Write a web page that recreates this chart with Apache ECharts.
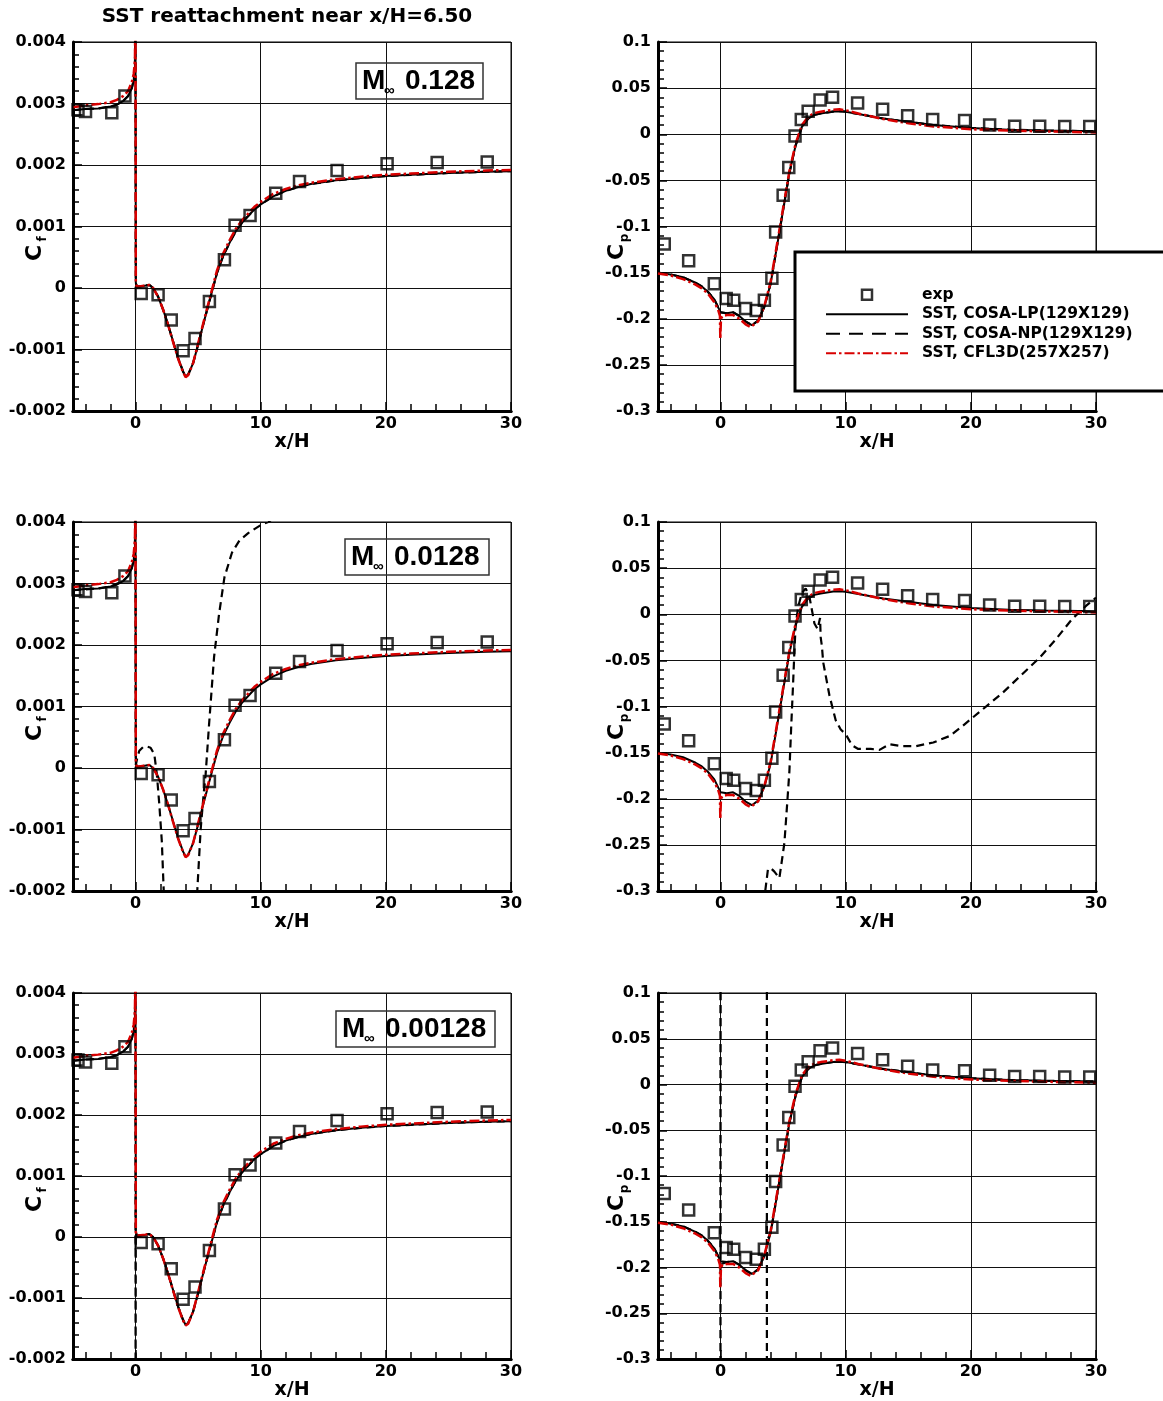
<!DOCTYPE html>
<html>
<head>
<meta charset="utf-8">
<script src="https://cdn.jsdelivr.net/npm/echarts@6/dist/echarts.min.js"></script>
<style>
html, body { margin: 0; padding: 0; background: #fff; }
#chart { width: 1163px; height: 1401px; }
</style>
</head>
<body>
<div id="chart"></div>
<script>
// ---- data ----
// skin friction, experiment (same in all three rows)
const cfExp = [[-4.6,0.00290],[-4.0,0.00287],[-1.9,0.00285],[-0.85,0.00312],[0.45,-0.00009],[1.8,-0.00011],
  [2.85,-0.00052],[3.8,-0.00102],[4.75,-0.00082],[5.9,-0.00022],[7.1,0.00046],[7.95,0.00102],[9.15,0.00118],
  [11.2,0.00154],[13.1,0.00173],[16.1,0.00191],[20.1,0.00202],[24.1,0.00204],[28.1,0.00205]]
// skin friction, SST COSA-LP
const cfLp = [[-5,0.00289],[-4,0.00291],[-3,0.00292],[-2,0.00295],[-1.5,0.00298],[-1,0.00304],[-0.6,0.00312],
  [-0.3,0.00325],[-0.15,0.00338],[-0.05,0.0036],[-0.01,0.0046],[0.02,0.00008],[0.1,0.00002],[0.4,0.00003],
  [0.8,0.00004],[1.1,0.00005],[1.4,0.0],[1.8,-0.00014],[2.2,-0.00035],[2.6,-0.0006],[3.0,-0.00087],
  [3.4,-0.00114],[3.8,-0.00136],[4.0,-0.00144],[4.2,-0.00141],[4.6,-0.00122],[5.0,-0.00092],[5.5,-0.00052],
  [6.0,-0.00014],[6.5,0.00024],[7.0,0.00052],[7.5,0.00073],[8.0,0.00092],[8.5,0.00106],[9.0,0.00117],
  [9.5,0.00128],[10,0.00136],[11,0.00149],[12,0.00158],[13,0.00164],[14,0.00169],[16,0.00175],[18,0.00179],
  [20,0.00182],[22,0.00184],[25,0.00187],[28,0.00189],[30,0.0019]]
// skin friction, SST CFL3D
const cfCfl3d = [[-5,0.00294],[-4,0.00297],[-3,0.00299],[-2,0.00302],[-1.5,0.00306],[-1,0.00312],[-0.6,0.0032],
  [-0.3,0.00335],[-0.15,0.00348],[-0.05,0.0037],[-0.01,0.0046],[0.02,0.00008],[0.1,0.00002],[0.4,0.00003],
  [0.8,0.00004],[1.1,0.00005],[1.4,0.0],[1.8,-0.00014],[2.2,-0.00035],[2.6,-0.0006],[3.0,-0.00088],
  [3.4,-0.00115],[3.8,-0.00137],[4.0,-0.00145],[4.2,-0.00142],[4.6,-0.00122],[5.0,-0.0009],[5.5,-0.0005],
  [6.0,-0.00011],[6.5,0.00028],[7.0,0.00056],[7.5,0.00077],[8.0,0.00096],[8.5,0.0011],[9.0,0.00121],
  [9.5,0.00132],[10,0.0014],[11,0.00153],[12,0.00161],[13,0.00167],[14,0.00171],[16,0.00177],[18,0.00181],
  [20,0.00184],[22,0.00186],[25,0.00189],[28,0.00191],[30,0.00192]]
// skin friction, SST COSA-NP, one per Mach number
const cfNp1 = cfLp
const cfNp2 = [[-5,0.00289],[-3,0.00292],[-2,0.00295],[-1,0.00304],[-0.6,0.00312],[-0.3,0.00325],[-0.15,0.00338],
  [-0.05,0.0036],[-0.01,0.0046],[0.02,0.00005],[0.15,0.00018],[0.3,0.00028],[0.6,0.00034],[0.9,0.00035],
  [1.2,0.00033],[1.5,0.00022],[1.7,-0.0001],[1.9,-0.0006],[2.1,-0.0012],[2.25,-0.002],[2.5,-0.0035],
  [3.5,-0.006],[4.6,-0.004],[4.93,-0.002],[5.2,-0.001],[5.45,-0.0004],[5.6,-0.0001],[5.87,0.0007],
  [6.27,0.0018],[6.67,0.0025],[7.1,0.0031],[7.7,0.0035],[8.3,0.0037],[9.0,0.00382],[10.0,0.00395],
  [10.6,0.0040],[12,0.0042]]
const cfNp3 = [[-5,0.00289],[-4,0.00291],[-3,0.00292],[-2,0.00295],[-1.5,0.00298],[-1,0.00304],[-0.6,0.00312],
  [-0.3,0.00325],[-0.15,0.00338],[-0.05,0.0036],[-0.01,0.0046],[0.0,-0.0025],[0.02,0.00008],[0.1,0.00002],
  [0.4,0.00003],[0.8,0.00004],[1.1,0.00005],[1.4,0.0],[1.8,-0.00014],[2.2,-0.00035],[2.6,-0.0006],
  [3.0,-0.00087],[3.4,-0.00114],[3.8,-0.00136],[4.0,-0.00144],[4.2,-0.00141],[4.6,-0.00122],[5.0,-0.00092],
  [5.5,-0.00052],[6.0,-0.00014],[6.5,0.00024],[7.0,0.00052],[7.5,0.00073],[8.0,0.00092],[8.5,0.00106],
  [9.0,0.00117],[9.5,0.00128],[10,0.00136],[11,0.00149],[12,0.00158],[13,0.00164],[14,0.00169],[16,0.00175],
  [18,0.00179],[20,0.00182],[22,0.00184],[25,0.00187],[28,0.00189],[30,0.0019]]

// pressure, experiment
const cpExp = [[-4.5,-0.119],[-2.55,-0.137],[-0.5,-0.162],[0.45,-0.178],[1.05,-0.180],[2.0,-0.189],[2.85,-0.191],
  [3.5,-0.180],[4.1,-0.156],[4.4,-0.106],[5.0,-0.066],[5.45,-0.036],[5.95,-0.002],[6.45,0.016],[7.0,0.025],
  [7.95,0.037],[8.95,0.040],[10.95,0.034],[12.95,0.027],[14.95,0.020],[16.95,0.016],[19.5,0.015],[21.5,0.010],
  [23.5,0.0087],[25.5,0.0087],[27.5,0.0083],[29.5,0.0083]]
// pressure, SST COSA-LP
const cpLp = [[-5,-0.150],[-4,-0.152],[-3,-0.155],[-2,-0.161],[-1.5,-0.165],[-1,-0.171],[-0.5,-0.179],
  [-0.25,-0.186],[0,-0.193],[0.1,-0.195],[0.5,-0.194],[1,-0.193],[1.5,-0.197],[2,-0.203],[2.5,-0.207],
  [3,-0.202],[3.5,-0.187],[4,-0.162],[4.5,-0.122],[5,-0.082],[5.5,-0.042],[6,-0.012],[6.5,0.008],[7,0.017],
  [7.5,0.021],[8,0.0225],[9,0.0246],[9.5,0.025],[10,0.0245],[11,0.022],[12,0.0195],[13,0.017],[15,0.0135],
  [17,0.010],[20,0.0069],[23,0.005],[26,0.004],[30,0.0033]]
// pressure, SST CFL3D
const cpCfl3d = [[-5,-0.151],[-4,-0.153],[-3,-0.157],[-2,-0.163],[-1.5,-0.167],[-1,-0.173],[-0.5,-0.182],
  [-0.2,-0.19],[-0.05,-0.197],[-0.02,-0.222],[0.03,-0.2],[0.15,-0.197],[0.5,-0.196],[1,-0.196],[1.5,-0.2],
  [2,-0.206],[2.4,-0.209],[3,-0.203],[3.5,-0.186],[4,-0.16],[4.5,-0.12],[5,-0.08],[5.5,-0.04],[6,-0.01],
  [6.5,0.01],[7,0.019],[7.5,0.023],[8,0.0245],[9,0.0265],[9.5,0.027],[10,0.026],[11,0.0225],[12,0.0195],
  [13,0.0165],[15,0.012],[17,0.0085],[20,0.0055],[23,0.004],[26,0.003],[30,0.002]]
// pressure, SST COSA-NP, one per Mach number
const cpNp1 = cpLp
const cpNp2 = [[-5,-0.293],[-4.6,-0.32],[0,-0.6],[3.4,-0.4],[3.57,-0.3],[3.78,-0.277],[4.0,-0.275],[4.3,-0.279],
  [4.7,-0.286],[5.1,-0.248],[5.35,-0.2],[5.5,-0.17],[5.65,-0.12],[5.78,-0.08],[5.9,-0.04],[6.0,-0.012],
  [6.2,0.008],[6.5,0.023],[6.8,0.028],[7.1,0.019],[7.5,-0.01],[7.75,-0.016],[7.95,-0.004],[8.0,-0.025],
  [8.1,-0.035],[8.2,-0.052],[8.7,-0.088],[9.2,-0.115],[9.6,-0.125],[10.0,-0.13],[10.5,-0.142],[11,-0.146],
  [12,-0.146],[12.7,-0.147],[13.5,-0.141],[14.5,-0.143],[15.6,-0.143],[17,-0.139],[18.3,-0.132],
  [19.35,-0.121],[20.95,-0.103],[22.55,-0.085],[24.1,-0.065],[25.5,-0.047],[26.8,-0.027],[28.1,-0.005],
  [29.2,0.009],[30,0.018]]
const cpNp3 = [[-5,-0.150],[-4,-0.152],[-3,-0.155],[-2,-0.161],[-1.5,-0.165],[-1,-0.171],[-0.5,-0.179],
  [-0.25,-0.186],[-0.06,-0.191],[-0.03,null],[-0.01,0.3],[-0.01,-0.5],[0.01,0.3],[0.03,null],[0.06,-0.196],
  [0.1,-0.195],[0.5,-0.194],[1,-0.193],[1.5,-0.197],[2,-0.203],[2.5,-0.207],[3,-0.202],[3.5,-0.187],
  [3.6,-0.182],[3.65,null],[3.7,0.3],[3.7,-0.5],[3.75,null],[3.8,-0.168],[4,-0.162],[4.5,-0.122],[5,-0.082],
  [5.5,-0.042],[6,-0.012],[6.5,0.008],[7,0.017],[7.5,0.021],[8,0.0225],[9,0.0246],[9.5,0.025],[10,0.0245],
  [11,0.022],[12,0.0195],[13,0.017],[15,0.0135],[17,0.010],[20,0.0069],[23,0.005],[26,0.004],[30,0.0033]]

const machLabels = ['0.128', '0.0128', '0.00128']
const xMajorTicks = [0, 10, 20, 30]
const xMinorTicks = [-4, -2, 2, 4, 6, 8, 12, 14, 16, 18, 22, 24, 26, 28]
const seriesNames = ['exp', 'SST, COSA-LP(129X129)', 'SST, COSA-NP(129X129)', 'SST, CFL3D(257X257)']

// ---- layout ----
const colLeft = [73, 658]
const rowTop = [42, 522, 993]
const plotW = 438, plotH = 369
const machBox = [[356, 63, 127], [345, 539, 144], [336, 1011, 159]]
const FONT = 'DejaVu Sans'

const panels = []
for (let r = 0; r < 3; r++) {
  panels.push({ row: r, col: 0, min: -0.002, max: 0.004, step: 0.001,
    exp: cfExp, lp: cfLp, np: [cfNp1, cfNp2, cfNp3][r], cfl: cfCfl3d })
  panels.push({ row: r, col: 1, min: -0.3, max: 0.1, step: 0.05,
    exp: cpExp, lp: cpLp, np: [cpNp1, cpNp2, cpNp3][r], cfl: cpCfl3d })
}

const grid = [], xAxis = [], yAxis = [], series = []
const labelStyle = { color: '#000', fontFamily: FONT, fontWeight: 'bold', fontSize: 16 }

panels.forEach((p, g) => {
  grid.push({ left: colLeft[p.col], top: rowTop[p.row], width: plotW, height: plotH,
    show: true, borderColor: '#000', borderWidth: 1, backgroundColor: 'transparent' })
  // main x axis: labels, major ticks, grid lines
  xAxis.push({
    type: 'value', gridIndex: g, min: -5, max: 30, position: 'bottom',
    axisLine: { show: true, onZero: false, lineStyle: { color: '#000', width: 3 } },
    axisTick: { show: true, inside: true, length: 9, customValues: xMajorTicks, lineStyle: { color: '#000', width: 1.5 } },
    axisLabel: Object.assign({ customValues: xMajorTicks, margin: 5 }, labelStyle),
    splitLine: { show: true, lineStyle: { color: '#111', width: 1 } },
    name: 'x/H', nameLocation: 'middle', nameGap: 18,
    nameTextStyle: { color: '#000', fontFamily: FONT, fontWeight: 'bold', fontSize: 19, verticalAlign: 'top' }
  })
  // second x axis on the same grid, only for minor ticks
  xAxis.push({
    type: 'value', gridIndex: g, min: -5, max: 30, position: 'bottom',
    axisLine: { show: true, onZero: false, lineStyle: { color: '#000', width: 3 } },
    axisLabel: { show: false }, splitLine: { show: false },
    axisTick: { show: true, inside: true, length: 7, customValues: xMinorTicks, lineStyle: { color: '#000', width: 1.5 } }
  })
  yAxis.push({
    type: 'value', gridIndex: g, min: p.min, max: p.max, interval: p.step, position: 'left',
    axisLine: { show: true, onZero: false, lineStyle: { color: '#000', width: 3 } },
    axisTick: { show: true, inside: true, length: 9, lineStyle: { color: '#000', width: 1.5 } },
    minorTick: { show: true, splitNumber: 5, length: 6, lineStyle: { color: '#000', width: 1.5 } },
    axisLabel: Object.assign({ margin: 7 }, labelStyle),
    splitLine: { show: true, lineStyle: { color: '#111', width: 1 } }
  })
  const common = { xAxisIndex: 2 * g, yAxisIndex: g, animation: false, silent: true }
  series.push(Object.assign({ type: 'line', name: seriesNames[1], data: p.lp, symbol: 'none', z: 3,
    itemStyle: { color: '#000' }, lineStyle: { color: '#000', width: 2 } }, common))
  series.push(Object.assign({ type: 'line', name: seriesNames[2], data: p.np, symbol: 'none', z: 4,
    connectNulls: false,
    itemStyle: { color: '#000' }, lineStyle: { color: '#000', width: 2.2, type: [8, 5] } }, common))
  series.push(Object.assign({ type: 'line', name: seriesNames[3], data: p.cfl, symbol: 'none', z: 5,
    itemStyle: { color: '#d80000' }, lineStyle: { color: '#d80000', width: 2.5, type: [10, 3, 2.5, 3] } }, common))
  series.push(Object.assign({ type: 'scatter', name: seriesNames[0], data: p.exp, symbol: 'rect', symbolSize: 11, z: 6,
    itemStyle: { color: 'transparent', borderColor: '#000', borderWidth: 2.5 } }, common))
})

// ---- texts: title, y titles, Mach boxes ----
const graphic = []
graphic.push({ type: 'text', x: 287, y: 17, z: 100,
  style: { text: 'SST reattachment near x/H=6.50', fill: '#000', font: 'bold 20px "DejaVu Sans"',
    textAlign: 'center', textVerticalAlign: 'middle' } })
for (let r = 0; r < 3; r++) {
  const dy = rowTop[r] - rowTop[0]
  // C_f and C_p, written bottom to top
  graphic.push({ type: 'text', x: 35, y: 253 + dy, rotation: Math.PI / 2, z: 100,
    style: { text: 'C', fill: '#000', font: 'bold 22px "DejaVu Sans"', textAlign: 'center', textVerticalAlign: 'middle' } })
  graphic.push({ type: 'text', x: 43, y: 239 + dy, rotation: Math.PI / 2, z: 100,
    style: { text: 'f', fill: '#000', font: 'bold 12px "DejaVu Sans"', textAlign: 'center', textVerticalAlign: 'middle' } })
  graphic.push({ type: 'text', x: 617, y: 252 + dy, rotation: Math.PI / 2, z: 100,
    style: { text: 'C', fill: '#000', font: 'bold 22px "DejaVu Sans"', textAlign: 'center', textVerticalAlign: 'middle' } })
  graphic.push({ type: 'text', x: 625, y: 238 + dy, rotation: Math.PI / 2, z: 100,
    style: { text: 'p', fill: '#000', font: 'bold 12px "DejaVu Sans"', textAlign: 'center', textVerticalAlign: 'middle' } })
  // Mach number box
  const [bx, by, bw] = machBox[r]
  graphic.push({ type: 'rect', x: bx, y: by, z: 100,
    shape: { width: bw, height: 36 }, style: { fill: 'transparent', stroke: '#333', lineWidth: 1.5 } })
  graphic.push({ type: 'text', x: bx + 6, y: by + 18, z: 100,
    style: { text: 'M', fill: '#000', font: 'bold 28px "Liberation Sans"', textAlign: 'left', textVerticalAlign: 'middle' } })
  graphic.push({ type: 'text', x: bx + 28, y: by + 28, z: 100,
    style: { text: '\u221e', fill: '#000', font: 'bold 15px "Liberation Sans"', textAlign: 'left', textVerticalAlign: 'middle' } })
  graphic.push({ type: 'text', x: bx + 49, y: by + 18, z: 100,
    style: { text: machLabels[r], fill: '#000', font: 'bold 28px "Liberation Sans"', textAlign: 'left', textVerticalAlign: 'middle' } })
}

// legend entries: hollow square for exp, bare lines for the three solutions
const legendData = [
  { name: seriesNames[0], icon: 'path://M0 0H10V10H0Z',
    itemStyle: { color: 'transparent', borderColor: '#000', borderWidth: 2.5 } },
  { name: seriesNames[1], itemStyle: { opacity: 0 } },
  { name: seriesNames[2], itemStyle: { opacity: 0 }, lineStyle: { type: [14, 9] } },
  { name: seriesNames[3], itemStyle: { opacity: 0 } }
]

const chart = echarts.init(document.getElementById('chart'))
chart.setOption({
  animation: false,
  backgroundColor: '#fff',
  grid, xAxis, yAxis, series, graphic,
  legend: {
    data: legendData, orient: 'vertical', left: 795, top: 252,
    itemWidth: 82, itemHeight: 10, itemGap: 0, symbolKeepAspect: true,
    padding: [33, 80, 28, 30],
    backgroundColor: '#fff', borderColor: '#000', borderWidth: 3,
    selectedMode: false, z: 20,
    textStyle: { color: '#000', fontFamily: FONT, fontWeight: 'bold', fontSize: 15.5, lineHeight: 19.5, padding: [0, 0, 0, 9] }
  }
})
</script>
</body>
</html>
